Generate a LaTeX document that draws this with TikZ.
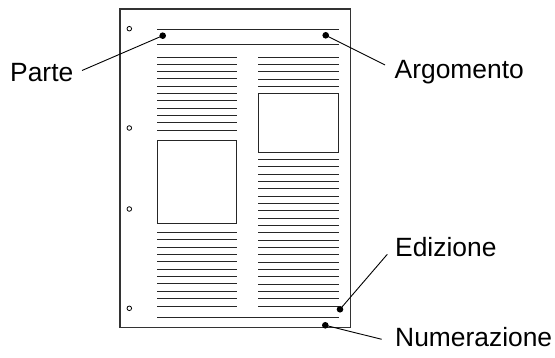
\documentclass[tikz,border=0pt]{standalone}
\usepackage{fontspec}
\setmainfont{Liberation Sans}
\begin{document}
\begin{tikzpicture}[x=1pt,y=-1pt,
  txtline/.style={draw=black!85,line width=0.9pt},
  pageframe/.style={draw=black!80,line width=1.2pt},
  picbox/.style={draw=black!85,line width=1pt},
  hole/.style={circle,draw=black,line width=0.8pt,minimum size=4.6pt,inner sep=0pt},
  dotm/.style={circle,fill=black,minimum size=6.6pt,inner sep=0pt},
  lbl/.style={anchor=base west,inner sep=0pt,font=\fontsize{26.4pt}{29pt}\selectfont},
  conn/.style={draw=black,line width=0.9pt}]
\useasboundingbox (0,0) rectangle (555,358);
\fill[white] (0,0) rectangle (555,358);
% page
\draw[pageframe] (120,9) rectangle (350.5,327.5);
% holes
\foreach \y [count=\i] in {28.7,128,209,308.3}
  \node[hole] (h\i) at (129.3,\y) {};
% header and footer lines
\draw[txtline] (157,29.3) -- (338.7,29.3);
\draw[txtline] (157,44) -- (338.7,44);
\draw[txtline] (157,317.3) -- (338.7,317.3);
% left column top lines
\foreach \i in {0,...,10}
  \draw[txtline] (157,57+7.3*\i) -- (236.7,57+7.3*\i);
% left picture
\draw[picbox] (157,140.3) rectangle (236.7,223.3);
% left column bottom lines
\foreach \i in {0,...,10}
  \draw[txtline] (157,232.3+7.37*\i) -- (236.7,232.3+7.37*\i);
% right column top lines
\foreach \i in {0,...,4}
  \draw[txtline] (258.3,57+7.33*\i) -- (338.7,57+7.33*\i);
% right picture
\draw[picbox] (258.3,94) rectangle (338.7,152.3);
% right column lines
\foreach \i in {0,...,20}
  \draw[txtline] (258.3,159.3+7.335*\i) -- (338.7,159.3+7.335*\i);
% marker dots
\node[dotm] (dparte) at (162.7,35.7) {};
\node[dotm] (darg) at (325.7,35.3) {};
\node[dotm] (dediz) at (340,309.3) {};
\node[dotm] (dnum) at (325.3,325.3) {};
% labels
\node[lbl] (lparte) at (10,81.7) {Parte};
\node[lbl] (larg) at (394.5,78.3) {Argomento};
\node[lbl] (lediz) at (395,256.7) {Edizione};
\node[lbl] (lnum) at (395,346.7) {Numerazione};
% connector ends
\coordinate (eparte) at (82,70.5);
\coordinate (earg) at (385,65);
\coordinate (eediz) at (387.3,254.3);
\coordinate (enum) at (381.7,339.3);
\draw[conn] (eparte) -- (dparte.center);
\draw[conn] (earg) -- (darg.center);
\draw[conn] (eediz) -- (dediz.center);
\draw[conn] (enum) -- (dnum.center);
\end{tikzpicture}
\end{document}
